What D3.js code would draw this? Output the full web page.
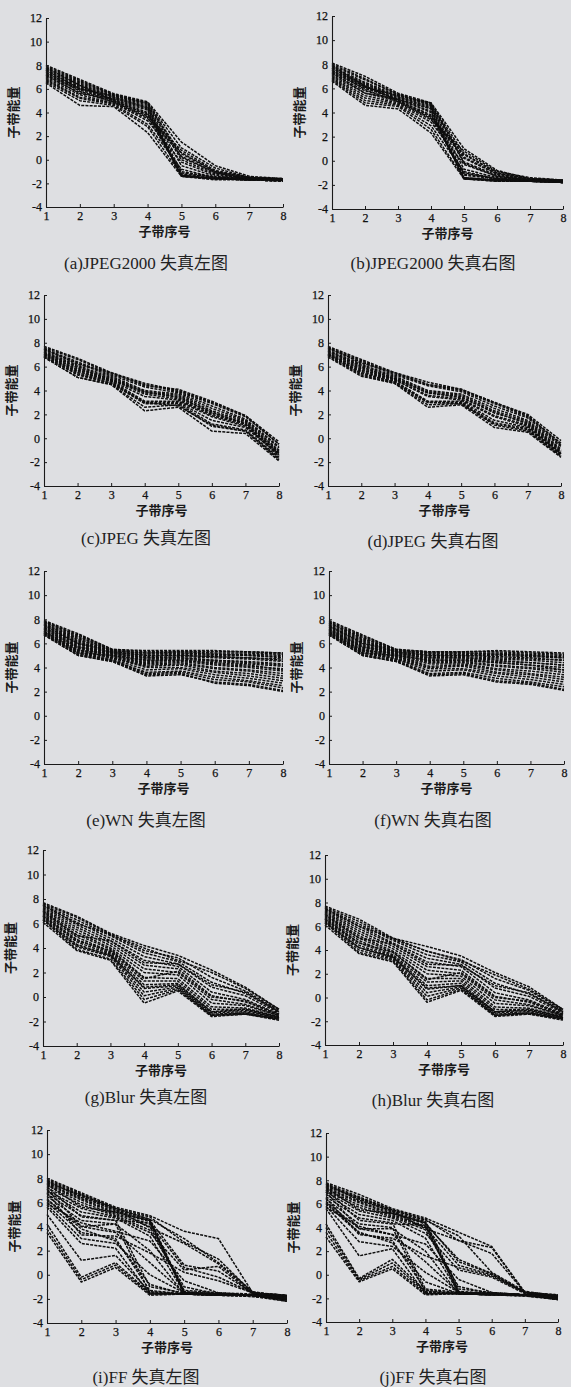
<!DOCTYPE html>
<html>
<head>
<meta charset="utf-8">
<script src="https://cdn.jsdelivr.net/npm/d3@7"></script>
<style>
  body { margin: 0; background: #dedfe2; }
  svg { display: block; }
</style>
</head>
<body>
<div id="chart"></div>
<script>
// subband index and y ticks
var bandIndex = [1, 2, 3, 4, 5, 6, 7, 8];
var yTicks = [-4, -2, 0, 2, 4, 6, 8, 10, 12];
var xTitle = "子带序号";
var yTitle = "子带能量";

var captions = [
  "(a)JPEG2000 失真左图", "(b)JPEG2000 失真右图",
  "(c)JPEG 失真左图", "(d)JPEG 失真右图",
  "(e)WN 失真左图", "(f)WN 失真右图",
  "(g)Blur 失真左图", "(h)Blur 失真右图",
  "(i)FF 失真左图", "(j)FF 失真右图"
];

// (a) JPEG2000 left
var jp2kLeft = [
  [8.0, 6.8, 5.6, 4.9, 1.5, -0.5, -1.4, -1.6],
  [7.9, 6.7, 5.5, 4.8, 1.0, -0.7, -1.5, -1.6],
  [7.8, 6.6, 5.5, 4.7, 0.5, -1.0, -1.5, -1.7],
  [7.7, 6.5, 5.4, 4.6, 0.0, -1.2, -1.6, -1.7],
  [7.6, 6.4, 5.3, 4.5, -0.5, -1.4, -1.6, -1.7],
  [7.5, 6.3, 5.3, 4.4, -1.0, -1.5, -1.6, -1.7],
  [7.4, 6.2, 5.2, 4.3, -1.3, -1.6, -1.7, -1.7],
  [7.3, 6.1, 5.1, 4.2, -1.4, -1.6, -1.7, -1.7],
  [7.2, 6.0, 5.1, 4.0, -1.4, -1.6, -1.7, -1.8],
  [7.1, 5.9, 5.0, 3.9, -1.2, -1.5, -1.6, -1.7],
  [7.0, 5.7, 4.9, 3.7, 0.8, -0.9, -1.5, -1.6],
  [6.9, 5.5, 4.8, 3.5, 0.6, -1.0, -1.5, -1.7],
  [6.8, 5.3, 4.8, 3.3, -0.2, -1.3, -1.6, -1.7],
  [6.7, 5.2, 4.7, 3.0, -0.8, -1.5, -1.7, -1.7],
  [6.6, 5.0, 4.6, 2.8, -1.3, -1.6, -1.7, -1.8],
  [6.5, 4.6, 4.5, 2.3, -1.4, -1.7, -1.7, -1.8],
  [7.6, 6.0, 5.4, 4.8, 0.2, -1.1, -1.6, -1.7],
  [7.2, 5.6, 5.2, 4.4, -1.4, -1.6, -1.7, -1.7],
  [7.8, 6.3, 5.0, 3.8, 0.3, -1.1, -1.6, -1.7],
  [7.4, 5.8, 4.9, 3.6, -1.1, -1.5, -1.7, -1.8]
];

// (b) JPEG2000 right
var jp2kRight = [
  [8.1, 7.0, 5.6, 4.8, 1.0, -0.8, -1.5, -1.6],
  [8.0, 6.8, 5.5, 4.7, 0.6, -1.0, -1.5, -1.6],
  [7.9, 6.7, 5.5, 4.6, 0.3, -1.1, -1.5, -1.7],
  [7.8, 6.5, 5.4, 4.6, -0.2, -1.3, -1.6, -1.7],
  [7.7, 6.4, 5.3, 4.5, -0.7, -1.4, -1.6, -1.7],
  [7.6, 6.3, 5.3, 4.4, -1.1, -1.5, -1.6, -1.7],
  [7.5, 6.2, 5.2, 4.3, -1.4, -1.6, -1.7, -1.7],
  [7.4, 6.1, 5.1, 4.1, -1.5, -1.6, -1.7, -1.8],
  [7.3, 6.0, 5.1, 4.0, -1.5, -1.7, -1.7, -1.8],
  [7.2, 5.8, 5.0, 3.8, -1.2, -1.5, -1.6, -1.7],
  [7.1, 5.6, 4.9, 3.6, 0.5, -1.0, -1.5, -1.7],
  [7.0, 5.4, 4.8, 3.4, 0.8, -0.9, -1.4, -1.6],
  [6.9, 5.2, 4.7, 3.2, -0.3, -1.3, -1.6, -1.7],
  [6.8, 5.0, 4.6, 2.9, -0.9, -1.5, -1.7, -1.8],
  [6.7, 4.8, 4.5, 2.6, -1.4, -1.6, -1.7, -1.8],
  [6.6, 4.6, 4.3, 2.3, -1.5, -1.7, -1.7, -1.8],
  [7.7, 6.1, 5.4, 4.8, -0.1, -1.2, -1.6, -1.7],
  [7.3, 5.6, 5.1, 4.3, -1.5, -1.6, -1.7, -1.8],
  [7.9, 6.2, 5.0, 3.7, 0.2, -1.1, -1.6, -1.7],
  [7.5, 5.9, 4.9, 3.5, -1.0, -1.5, -1.6, -1.8]
];

// (c) JPEG left
var jpegLeft = [
  [7.7, 6.7, 5.5, 4.6, 4.0, 3.0, 1.9, -0.3],
  [7.6, 6.6, 5.4, 4.5, 3.9, 2.9, 1.8, -0.5],
  [7.5, 6.4, 5.3, 4.3, 3.8, 2.7, 1.6, -0.7],
  [7.4, 6.3, 5.2, 4.0, 3.7, 2.5, 1.5, -0.8],
  [7.3, 6.1, 5.1, 3.9, 3.6, 2.3, 1.4, -1.0],
  [7.2, 6.0, 5.0, 3.8, 3.5, 2.1, 1.3, -1.1],
  [7.1, 5.8, 4.9, 3.7, 3.3, 2.0, 1.2, -1.2],
  [7.0, 5.6, 4.8, 3.1, 3.1, 1.8, 1.0, -1.3],
  [7.0, 5.5, 4.7, 3.0, 3.0, 1.5, 0.9, -1.4],
  [6.9, 5.3, 4.6, 2.9, 2.9, 1.2, 0.7, -1.6],
  [6.8, 5.1, 4.5, 2.6, 2.8, 1.0, 0.6, -1.7],
  [6.8, 5.1, 4.5, 2.3, 2.6, 0.6, 0.4, -1.9],
  [7.5, 6.2, 5.5, 4.4, 4.1, 3.1, 1.9, -0.5],
  [7.2, 5.9, 4.9, 3.9, 3.4, 2.2, 1.2, -1.3],
  [6.9, 5.4, 4.6, 3.0, 2.7, 1.1, 0.6, -1.8],
  [7.1, 5.7, 4.8, 3.5, 3.2, 1.9, 1.1, -1.5]
];

// (d) JPEG right
var jpegRight = [
  [7.7, 6.6, 5.5, 4.7, 4.1, 3.0, 2.0, -0.2],
  [7.6, 6.5, 5.4, 4.5, 4.0, 2.9, 1.8, -0.4],
  [7.5, 6.4, 5.3, 4.4, 3.9, 2.7, 1.7, -0.6],
  [7.4, 6.2, 5.2, 4.0, 3.7, 2.5, 1.5, -0.7],
  [7.3, 6.1, 5.1, 3.9, 3.6, 2.3, 1.4, -0.9],
  [7.2, 5.9, 5.0, 3.8, 3.5, 2.1, 1.3, -1.0],
  [7.1, 5.8, 4.9, 3.6, 3.3, 1.9, 1.1, -1.2],
  [7.0, 5.6, 4.8, 3.1, 3.1, 1.5, 0.9, -1.3],
  [7.0, 5.4, 4.7, 3.0, 3.0, 1.3, 0.8, -1.4],
  [6.9, 5.3, 4.6, 2.8, 2.9, 1.1, 0.6, -1.5],
  [6.8, 5.2, 4.6, 2.6, 2.8, 0.9, 0.5, -1.6],
  [7.6, 6.3, 5.5, 4.5, 4.1, 3.0, 1.9, -0.5],
  [7.3, 6.0, 5.0, 3.8, 3.4, 2.2, 1.2, -1.1],
  [7.0, 5.5, 4.7, 3.0, 2.9, 1.2, 0.7, -1.5],
  [7.1, 5.7, 4.9, 3.5, 3.2, 1.8, 1.0, -1.3]
];

// (e) WN left
var wnLeft = [
  [7.9, 6.8, 5.5, 5.4, 5.4, 5.4, 5.3, 5.2],
  [7.8, 6.7, 5.5, 5.3, 5.3, 5.3, 5.3, 5.2],
  [7.8, 6.6, 5.4, 5.2, 5.3, 5.2, 5.2, 5.1],
  [7.7, 6.5, 5.4, 5.1, 5.2, 5.1, 5.1, 5.0],
  [7.6, 6.4, 5.3, 5.0, 5.1, 5.0, 5.0, 4.9],
  [7.6, 6.3, 5.3, 4.9, 5.0, 4.9, 4.8, 4.7],
  [7.5, 6.2, 5.2, 4.8, 4.9, 4.8, 4.7, 4.5],
  [7.4, 6.1, 5.2, 4.7, 4.8, 4.6, 4.5, 4.3],
  [7.3, 6.0, 5.1, 4.6, 4.7, 4.5, 4.3, 4.1],
  [7.3, 5.9, 5.1, 4.5, 4.6, 4.3, 4.1, 3.9],
  [7.2, 5.8, 5.0, 4.4, 4.5, 4.2, 4.0, 3.7],
  [7.1, 5.7, 5.0, 4.3, 4.4, 4.0, 3.8, 3.5],
  [7.0, 5.6, 4.9, 4.2, 4.3, 3.9, 3.7, 3.3],
  [7.0, 5.5, 4.8, 4.1, 4.2, 3.7, 3.5, 3.1],
  [6.9, 5.4, 4.8, 4.0, 4.0, 3.6, 3.3, 2.9],
  [6.9, 5.3, 4.7, 3.8, 3.9, 3.4, 3.1, 2.7],
  [6.8, 5.2, 4.6, 3.6, 3.7, 3.2, 2.9, 2.5],
  [6.8, 5.1, 4.6, 3.5, 3.6, 3.0, 2.8, 2.3],
  [6.7, 5.0, 4.5, 3.3, 3.4, 2.8, 2.6, 2.1],
  [6.7, 5.0, 4.5, 3.4, 3.5, 2.7, 2.5, 2.0],
  [7.5, 6.0, 5.4, 5.2, 5.2, 5.1, 5.0, 4.8],
  [7.2, 5.7, 5.3, 5.0, 5.0, 4.9, 4.8, 4.6],
  [7.0, 5.4, 5.2, 4.8, 4.8, 4.6, 4.4, 4.2],
  [6.9, 5.2, 5.0, 4.6, 4.6, 4.4, 4.2, 3.8]
];

// (f) WN right
var wnRight = [
  [7.9, 6.7, 5.5, 5.3, 5.3, 5.4, 5.3, 5.2],
  [7.8, 6.6, 5.5, 5.3, 5.3, 5.3, 5.2, 5.1],
  [7.7, 6.5, 5.4, 5.2, 5.2, 5.2, 5.1, 5.0],
  [7.7, 6.4, 5.4, 5.1, 5.1, 5.1, 5.0, 4.9],
  [7.6, 6.3, 5.3, 5.0, 5.0, 5.0, 4.9, 4.8],
  [7.5, 6.2, 5.3, 4.9, 4.9, 4.8, 4.7, 4.6],
  [7.4, 6.1, 5.2, 4.8, 4.8, 4.7, 4.6, 4.4],
  [7.4, 6.0, 5.2, 4.7, 4.7, 4.5, 4.4, 4.2],
  [7.3, 5.9, 5.1, 4.6, 4.6, 4.4, 4.2, 4.0],
  [7.2, 5.8, 5.1, 4.5, 4.5, 4.2, 4.0, 3.8],
  [7.1, 5.7, 5.0, 4.4, 4.4, 4.1, 3.9, 3.6],
  [7.1, 5.6, 4.9, 4.3, 4.3, 3.9, 3.7, 3.4],
  [7.0, 5.5, 4.9, 4.1, 4.2, 3.8, 3.5, 3.2],
  [6.9, 5.4, 4.8, 4.0, 4.1, 3.6, 3.4, 3.0],
  [6.9, 5.3, 4.7, 3.9, 3.9, 3.5, 3.2, 2.8],
  [6.8, 5.2, 4.7, 3.7, 3.8, 3.3, 3.0, 2.6],
  [6.8, 5.1, 4.6, 3.5, 3.6, 3.1, 2.8, 2.4],
  [6.7, 5.0, 4.5, 3.4, 3.5, 2.9, 2.7, 2.2],
  [6.7, 5.0, 4.5, 3.3, 3.4, 2.8, 2.6, 2.1],
  [7.5, 6.0, 5.4, 5.2, 5.2, 5.1, 5.0, 4.8],
  [7.2, 5.7, 5.3, 5.0, 5.0, 4.9, 4.8, 4.6],
  [7.0, 5.4, 5.2, 4.8, 4.8, 4.6, 4.4, 4.2],
  [6.9, 5.2, 5.0, 4.6, 4.6, 4.4, 4.2, 3.8]
];

// (g) Blur left
var blurLeft = [
  [7.7, 6.6, 5.2, 4.2, 3.4, 2.2, 0.8, -1.0],
  [7.6, 6.5, 5.1, 3.8, 3.2, 1.6, 0.5, -1.1],
  [7.5, 6.3, 5.0, 3.6, 2.9, 1.2, 0.3, -1.2],
  [7.4, 6.1, 4.8, 3.3, 2.7, 0.8, 0.1, -1.3],
  [7.3, 5.9, 4.6, 3.0, 2.5, 0.4, -0.2, -1.4],
  [7.2, 5.7, 4.4, 2.6, 2.3, 0.1, -0.4, -1.4],
  [7.1, 5.5, 4.2, 2.3, 2.0, -0.2, -0.6, -1.5],
  [7.0, 5.3, 4.0, 2.0, 1.8, -0.5, -0.7, -1.5],
  [6.9, 5.1, 3.9, 1.6, 1.5, -0.8, -0.9, -1.6],
  [6.8, 4.9, 3.7, 1.3, 1.3, -1.0, -1.0, -1.6],
  [6.7, 4.7, 3.6, 1.0, 1.1, -1.2, -1.1, -1.7],
  [6.6, 4.5, 3.5, 0.7, 0.9, -1.3, -1.2, -1.7],
  [6.5, 4.3, 3.4, 0.4, 0.8, -1.4, -1.3, -1.8],
  [6.4, 4.1, 3.3, 0.1, 0.7, -1.5, -1.3, -1.8],
  [6.3, 3.9, 3.1, -0.2, 0.6, -1.5, -1.4, -1.8],
  [6.1, 3.8, 3.0, -0.5, 0.5, -1.6, -1.4, -1.9],
  [7.5, 6.0, 5.1, 4.0, 3.0, 2.0, 0.7, -1.0],
  [7.0, 5.0, 4.6, 2.8, 2.7, 1.0, 0.4, -1.2],
  [6.6, 4.6, 3.8, 1.5, 2.1, 0.0, -0.3, -1.5],
  [6.3, 4.2, 3.4, 0.8, 1.0, -1.2, -1.0, -1.7]
];

// (h) Blur right
var blurRight = [
  [7.7, 6.6, 5.0, 4.3, 3.5, 2.1, 0.9, -1.0],
  [7.6, 6.4, 4.9, 3.9, 3.2, 1.6, 0.6, -1.1],
  [7.5, 6.2, 4.8, 3.6, 3.0, 1.2, 0.3, -1.2],
  [7.4, 6.0, 4.6, 3.3, 2.8, 0.8, 0.1, -1.3],
  [7.3, 5.8, 4.5, 3.0, 2.6, 0.4, -0.2, -1.4],
  [7.2, 5.6, 4.3, 2.6, 2.3, 0.1, -0.4, -1.4],
  [7.1, 5.4, 4.1, 2.3, 2.0, -0.2, -0.6, -1.5],
  [7.0, 5.2, 3.9, 2.0, 1.8, -0.5, -0.7, -1.5],
  [6.9, 5.0, 3.8, 1.6, 1.6, -0.8, -0.9, -1.6],
  [6.8, 4.8, 3.6, 1.3, 1.4, -1.0, -1.0, -1.6],
  [6.7, 4.6, 3.5, 1.0, 1.2, -1.2, -1.1, -1.7],
  [6.6, 4.4, 3.4, 0.7, 1.0, -1.3, -1.2, -1.7],
  [6.5, 4.2, 3.3, 0.4, 0.9, -1.4, -1.3, -1.8],
  [6.4, 4.0, 3.2, 0.1, 0.8, -1.5, -1.3, -1.8],
  [6.3, 3.8, 3.1, -0.2, 0.7, -1.5, -1.4, -1.8],
  [6.1, 3.7, 3.0, -0.4, 0.6, -1.6, -1.4, -1.9],
  [7.5, 6.0, 5.0, 3.9, 3.1, 1.9, 0.7, -1.0],
  [7.0, 5.0, 4.5, 2.8, 2.7, 1.0, 0.4, -1.2],
  [6.6, 4.6, 3.8, 1.5, 2.1, 0.0, -0.3, -1.5],
  [6.3, 4.2, 3.4, 0.8, 1.0, -1.2, -1.0, -1.7]
];

// (i) FF left
var ffLeft = [
  [8.0, 6.8, 5.6, 4.9, 3.6, 3.0, -1.5, -1.8],
  [7.9, 6.7, 5.5, 4.8, 2.7, 1.3, -1.5, -1.7],
  [7.8, 6.6, 5.4, 4.6, -1.4, -1.6, -1.7, -1.8],
  [7.7, 6.5, 5.3, 4.5, -1.5, -1.6, -1.7, -1.9],
  [7.6, 6.3, 5.2, 4.4, -1.5, -1.6, -1.7, -1.8],
  [7.5, 6.2, 5.1, 4.2, 0.6, -0.2, -1.5, -1.8],
  [7.4, 6.0, 5.0, 4.0, -1.3, -1.5, -1.6, -2.0],
  [7.2, 5.8, 4.9, 3.7, -1.0, -1.6, -1.7, -1.9],
  [7.0, 5.5, 4.8, 3.5, 0.4, 0.7, -1.6, -1.8],
  [6.9, 5.2, 4.7, 3.2, -1.5, -1.6, -1.7, -2.0],
  [6.7, 4.9, 4.5, -1.0, -1.5, -1.6, -1.7, -1.9],
  [6.5, 4.5, 4.2, -1.5, -1.6, -1.6, -1.7, -2.1],
  [6.2, 4.0, 3.5, 1.0, -1.5, -1.6, -1.7, -2.0],
  [6.0, 3.5, 3.0, -1.3, -1.6, -1.6, -1.7, -2.2],
  [5.8, 3.0, 2.6, 0.0, -1.5, -1.6, -1.7, -1.9],
  [5.6, 2.6, 2.2, -1.6, -1.6, -1.7, -1.7, -2.0],
  [5.0, 1.2, 1.6, -1.4, -1.6, -1.7, -1.7, -1.9],
  [4.2, -0.2, 1.0, -1.5, -1.6, -1.7, -1.8, -2.0],
  [3.8, -0.4, 0.8, -1.6, -1.6, -1.7, -1.7, -2.1],
  [3.5, -0.6, 0.6, -1.7, -1.6, -1.7, -1.8, -2.2],
  [7.8, 6.4, 5.4, 3.9, 2.6, 0.9, -1.5, -1.7],
  [7.6, 6.6, 5.5, 4.6, 3.0, 1.0, -1.4, -1.8],
  [7.3, 4.8, 4.5, 4.3, -1.5, -1.6, -1.7, -1.9],
  [7.1, 4.0, 4.2, 2.0, -1.6, -1.6, -1.7, -2.0],
  [6.8, 3.3, 3.2, 1.8, 0.2, -0.5, -1.5, -1.8],
  [7.5, 5.6, 5.2, 4.5, 0.8, 0.3, -1.5, -1.7],
  [6.3, 3.8, 2.8, -0.8, -1.6, -1.7, -1.7, -2.0],
  [5.9, 4.3, 3.6, 2.8, -0.5, -1.5, -1.7, -1.9]
];

// (j) FF right
var ffRight = [
  [7.8, 6.8, 5.6, 4.8, 3.6, 2.4, -1.5, -1.8],
  [7.7, 6.6, 5.5, 4.7, 2.9, 2.3, -1.5, -1.8],
  [7.6, 6.5, 5.4, 4.5, -1.2, -1.5, -1.7, -1.9],
  [7.5, 6.4, 5.3, 4.4, -1.4, -1.6, -1.7, -1.8],
  [7.4, 6.2, 5.2, 4.3, 1.3, 0.1, -1.5, -1.9],
  [7.3, 6.1, 5.1, 4.1, -1.5, -1.6, -1.7, -1.8],
  [7.2, 5.9, 5.0, 4.0, 0.8, 0.0, -1.5, -2.0],
  [7.1, 5.7, 4.9, 3.8, -1.0, -1.6, -1.7, -1.9],
  [7.0, 5.4, 4.8, 3.5, 0.4, -0.2, -1.6, -1.8],
  [6.8, 5.1, 4.6, 3.1, -1.5, -1.6, -1.7, -2.0],
  [6.6, 4.8, 4.4, -1.2, -1.5, -1.6, -1.7, -1.9],
  [6.4, 4.3, 4.0, -1.5, -1.6, -1.6, -1.7, -2.1],
  [6.2, 3.9, 3.4, 1.1, -1.5, -1.6, -1.7, -2.0],
  [6.0, 3.5, 2.9, -1.3, -1.6, -1.6, -1.7, -2.1],
  [5.8, 2.8, 2.4, 0.2, -1.5, -1.6, -1.7, -1.9],
  [5.6, 1.6, 2.2, -1.6, -1.6, -1.7, -1.7, -2.0],
  [4.3, -0.3, 1.3, -1.4, -1.6, -1.7, -1.7, -1.9],
  [4.0, -0.4, 1.0, -1.5, -1.6, -1.7, -1.8, -2.0],
  [3.6, -0.5, 0.7, -1.6, -1.6, -1.7, -1.7, -2.1],
  [3.2, -0.6, 0.5, -1.7, -1.6, -1.7, -1.8, -2.1],
  [7.7, 6.3, 5.4, 3.9, 2.9, 1.8, -1.5, -1.7],
  [7.5, 6.5, 5.5, 4.6, 3.3, 0.2, -1.4, -1.8],
  [7.2, 4.6, 4.3, 4.2, -1.5, -1.6, -1.7, -1.9],
  [7.0, 3.9, 3.9, 2.0, -1.6, -1.6, -1.7, -2.0],
  [6.5, 3.4, 3.1, 1.6, 0.6, -0.1, -1.5, -1.8],
  [7.4, 5.5, 5.2, 4.4, 1.1, 0.1, -1.5, -1.7],
  [6.1, 3.6, 2.7, -0.6, -1.6, -1.7, -1.7, -2.0],
  [5.7, 4.1, 3.4, 2.6, -0.4, -1.5, -1.7, -1.9]
];

var panelSeries = [jp2kLeft, jp2kRight, jpegLeft, jpegRight, wnLeft, wnRight,
                   blurLeft, blurRight, ffLeft, ffRight];

// plot boxes on the page: [left, top, right, bottom] and caption centre
var layout = [
  { box: [46, 18, 283, 207],    cap: [146, 263] },
  { box: [332, 16, 563, 209],   cap: [433, 263] },
  { box: [44, 295, 279, 486],   cap: [146, 538] },
  { box: [328, 295, 561, 486],  cap: [433, 541] },
  { box: [44, 571, 283, 764],   cap: [146, 820] },
  { box: [329, 571, 564, 764],  cap: [433, 820] },
  { box: [43, 850, 279, 1046],  cap: [146, 1097] },
  { box: [325, 855, 563, 1045], cap: [433, 1100] },
  { box: [47, 1130, 287, 1323], cap: [146, 1377] },
  { box: [326, 1133, 558, 1322], cap: [433, 1377] }
];

var width = 571, height = 1387;
var numFont = "'Liberation Serif', 'DejaVu Serif', serif";
var cjkFont = "'Noto Sans CJK SC', sans-serif";

var svg = d3.select('#chart').append('svg')
  .attr('width', width)
  .attr('height', height);

svg.append('rect')
  .attr('width', width)
  .attr('height', height)
  .attr('fill', '#dedfe2');

panelSeries.forEach(function (series, i) {
  var b = layout[i].box;

  var x = d3.scaleLinear().domain([1, 8]).range([b[0], b[2]]);
  var y = d3.scaleLinear().domain([-4, 12]).range([b[3], b[1]]);

  var g = svg.append('g').attr('class', 'panel');

  // lines first so the axes sit on top
  var line = d3.line()
    .x(function (d, k) { return x(bandIndex[k]); })
    .y(function (d) { return y(d); });

  g.append('g')
    .selectAll('path')
    .data(series)
    .enter().append('path')
    .attr('d', line)
    .attr('fill', 'none')
    .attr('stroke', '#0e0e0e')
    .attr('stroke-width', 1.5)
    .attr('stroke-linejoin', 'round')
    .attr('stroke-dasharray', '3,1.2');

  // axes, ticks point inward
  var yAxis = d3.axisLeft(y)
    .tickValues(yTicks)
    .tickSize(-3)
    .tickSizeOuter(0)
    .tickPadding(4)
    .tickFormat(function (d) { return String(d); });

  var xAxis = d3.axisBottom(x)
    .tickValues(bandIndex)
    .tickSize(-3)
    .tickSizeOuter(0)
    .tickPadding(4)
    .tickFormat(function (d) { return String(d); });

  var ya = g.append('g')
    .attr('transform', 'translate(' + b[0] + ',0)')
    .call(yAxis);
  var xa = g.append('g')
    .attr('transform', 'translate(0,' + b[3] + ')')
    .call(xAxis);

  [ya, xa].forEach(function (a) {
    a.select('.domain').attr('stroke', '#1a1a1a').attr('stroke-width', 1.1);
    a.selectAll('.tick line').attr('stroke', '#1a1a1a');
    a.selectAll('.tick text')
      .attr('fill', '#111')
      .attr('stroke', '#111')
      .attr('stroke-width', 0.25)
      .style('font-family', numFont)
      .style('font-size', '12px');
  });

  // axis titles
  g.append('text')
    .attr('x', (b[0] + b[2]) / 2)
    .attr('y', b[3] + 29)
    .attr('text-anchor', 'middle')
    .style('font-family', cjkFont)
    .style('font-size', '13px')
    .style('font-weight', 'bold')
    .attr('fill', '#1a1a1a')
    .text(xTitle);

  g.append('text')
    .attr('transform', 'translate(' + (b[0] - 28) + ',' + ((b[1] + b[3]) / 2) + ') rotate(-90)')
    .attr('text-anchor', 'middle')
    .style('font-family', cjkFont)
    .style('font-size', '13px')
    .style('font-weight', 'bold')
    .attr('fill', '#1a1a1a')
    .text(yTitle);

  // caption under each panel
  g.append('text')
    .attr('x', layout[i].cap[0])
    .attr('y', layout[i].cap[1] + 6)
    .attr('text-anchor', 'middle')
    .style('font-family', numFont + ", 'Noto Sans CJK SC'")
    .style('font-size', '17px')
    .attr('fill', '#222')
    .text(captions[i]);
});
</script>
</body>
</html>
